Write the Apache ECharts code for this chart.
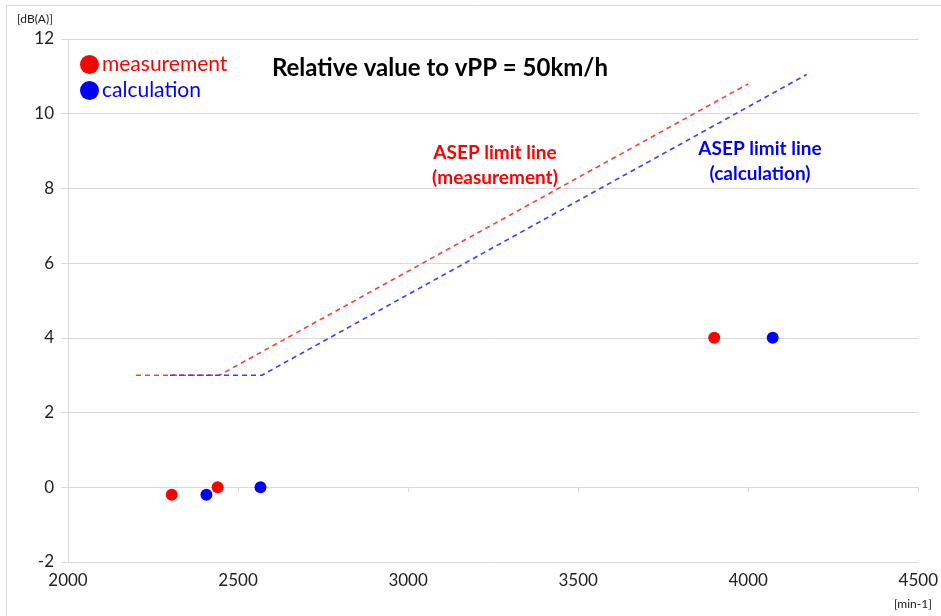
<!DOCTYPE html>
<html>
<head>
<meta charset="utf-8">
<script src="https://cdn.jsdelivr.net/npm/echarts@6/dist/echarts.min.js"></script>
<style>
html,body{margin:0;padding:0;background:#fff;}
#chart{width:941px;height:616px;}
</style>
</head>
<body>
<div id="chart"></div>
<script>
// Data
const measurementPoints = [[2305, -0.2], [2440, 0], [3900, 4]];
const calculationPoints = [[2407, -0.2], [2566, 0], [4072, 4]];
const limitMeasurement = [[2200, 3], [2445, 3], [4000, 10.8]];
const limitCalculation = [[2300, 3], [2570, 3], [4172, 11.05]];
const xTicks = [2000, 2500, 3000, 3500, 4000, 4500];
const yTicks = [-2, 0, 2, 4, 6, 8, 10, 12];

const FONT = 'Lato, "Open Sans", sans-serif';
const chart = echarts.init(document.getElementById('chart'));
chart.setOption({
  backgroundColor: '#fff',
  animation: false,
  grid: {left: 68, right: 20, top: 39, bottom: 54},
  xAxis: {
    type: 'value', min: xTicks[0], max: xTicks[xTicks.length - 1], interval: 500,
    axisLine: {show: true, lineStyle: {color: '#d9d9d9', width: 1}},
    axisTick: {show: true, length: 5, lineStyle: {color: '#d9d9d9'}},
    splitLine: {show: false},
    axisLabel: {color: '#222', fontSize: 17, fontFamily: FONT, margin: 10,
      formatter: function (v) { return String(v); }}
  },
  yAxis: {
    type: 'value', min: yTicks[0], max: yTicks[yTicks.length - 1], interval: 2,
    axisLine: {show: true, lineStyle: {color: '#d9d9d9', width: 1}},
    axisTick: {show: true, length: 7, lineStyle: {color: '#d9d9d9'}},
    splitLine: {show: true, lineStyle: {color: '#d9d9d9', width: 1}},
    axisLabel: {color: '#222', fontSize: 17, fontFamily: FONT, margin: 14}
  },
  legend: {
    orient: 'vertical', left: 75, top: 49, itemGap: 5,
    itemWidth: 19, itemHeight: 19, icon: 'circle',
    textStyle: {fontSize: 21, fontFamily: FONT, padding: [0, 0, 0, -2]},
    data: [
      {name: 'measurement', textStyle: {color: '#ff0000'}},
      {name: 'calculation', textStyle: {color: '#0000ff'}}
    ]
  },
  series: [
    {name: 'limitMeasurement', type: 'line', data: limitMeasurement, symbol: 'none',
      lineStyle: {color: '#ff3b3b', width: 1.6, type: [5, 4]}, z: 2},
    {name: 'limitCalculation', type: 'line', data: limitCalculation, symbol: 'none',
      lineStyle: {color: '#3b3bff', width: 1.6, type: [5, 4]}, z: 2},
    {name: 'measurement', type: 'scatter', data: measurementPoints, symbolSize: 12,
      itemStyle: {color: '#ff0000', opacity: 1}, z: 3},
    {name: 'calculation', type: 'scatter', data: calculationPoints, symbolSize: 12,
      itemStyle: {color: '#0000ff', opacity: 1}, z: 3}
  ],
  graphic: [
    {type: 'line', shape: {x1: 6.5, y1: 5.5, x2: 941, y2: 5.5}, style: {stroke: '#d9d9d9', lineWidth: 1}},
    {type: 'line', shape: {x1: 6.5, y1: 5.5, x2: 6.5, y2: 616}, style: {stroke: '#d9d9d9', lineWidth: 1}},
    {type: 'text', left: 17, top: 13, style: {text: '[dB(A)]', fontSize: 12, fontFamily: FONT, fill: '#222'}},
    {type: 'text', left: 894, top: 598, style: {text: '[min-1]', fontSize: 12, fontFamily: FONT, fill: '#222'}},
    {type: 'text', x: 440, y: 68, style: {text: 'Relative value to vPP = 50km/h', fontSize: 24, fontWeight: 'bold',
      fontFamily: FONT, fill: '#000', align: 'center', verticalAlign: 'middle'}},
    {type: 'text', x: 495, y: 165, style: {text: 'ASEP limit line\n(measurement)', fontSize: 19, fontWeight: 'bold',
      fontFamily: FONT, fill: '#ff0000', align: 'center', verticalAlign: 'middle', lineHeight: 25}},
    {type: 'text', x: 760, y: 161, style: {text: 'ASEP limit line\n(calculation)', fontSize: 19, fontWeight: 'bold',
      fontFamily: FONT, fill: '#0000ff', align: 'center', verticalAlign: 'middle', lineHeight: 25}}
  ]
});
</script>
</body>
</html>
